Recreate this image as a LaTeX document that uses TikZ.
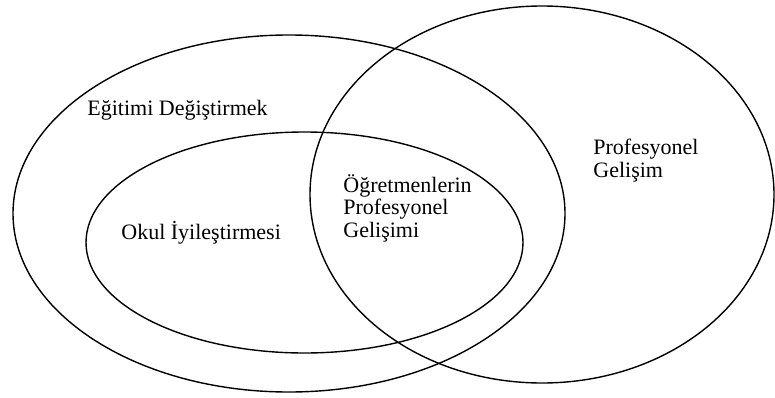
\documentclass[tikz,border=0pt]{standalone}
\usepackage{fontspec}
\setmainfont{Liberation Serif}
\usepackage{tikz}

\begin{document}
\begin{tikzpicture}[
  x=0.5pt,y=0.5pt,
  set/.style={draw, line width=0.7pt},
  label/.style={anchor=base west, inner sep=0pt, align=left, font=\fontsize{11}{10}\selectfont}
]
\useasboundingbox (0,0) rectangle (775,397);
\draw[set] (289,183.5) ellipse [x radius=276, y radius=178.5];
\draw[set] (542,202.5) ellipse [x radius=232, y radius=188.5];
\draw[set] (304.5,154.5) ellipse [x radius=218.5, y radius=110.5];
% base anchor sits on the last line
\node[label] (egitim) at (87,282) {Eğitimi Değiştirmek};
\node[label] (profesyonel) at (593,220) {Profesyonel\\Gelişim};
\node[label] (ogretmen) at (343,160) {Öğretmenlerin\\Profesyonel\\Gelişimi};
\node[label] (okul) at (121,158) {Okul İyileştirmesi};
\end{tikzpicture}
\end{document}
